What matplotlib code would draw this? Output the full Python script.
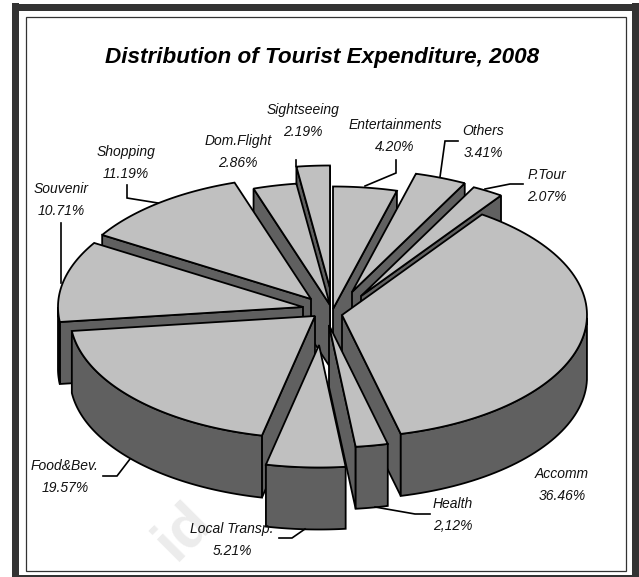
import numpy as np
import matplotlib
matplotlib.use("Agg")
import matplotlib.pyplot as plt
from matplotlib.patches import Polygon, Rectangle

plt.rcParams['font.family'] = ['Liberation Sans', 'DejaVu Sans']

# Datos, en sentido horario desde las 12
categories = ["Entertainments", "Others", "P.Tour", "Accomm", "Health", "Local Transp.",
              "Food&Bev.", "Souvenir", "Shopping", "Dom.Flight", "Sightseeing"]
values = [4.20, 3.41, 2.07, 36.46, 2.12, 5.21, 19.57, 10.71, 11.19, 2.86, 2.19]
pct_labels = ["4.20%", "3.41%", "2.07%", "36.46%", "2,12%", "5.21%",
              "19.57%", "10.71%", "11.19%", "2.86%", "2.19%"]

# Layout en pixeles
W, H = 639, 577
CX, CY = 331, 313
R = 245
SQUASH = 0.5
DEPTH = 62
TOP = "#c0c0c0"
SIDE = "#606060"
LW = 1.3

explode = [(2, -4), (21, -21), (30, -17), (11, 2), (-2, 12), (-12, 32),
           (-16, 3), (-28, -6), (-20, -14), (-1, -8), (-1, -25)]
label_pos = [(395, 125), (483, 131), (547, 175), (562, 474), (453, 504), (232, 529),
             (65, 466), (61, 189), (126, 152), (238, 141), (303, 110)]
leaders = [[(396, 160), (396, 173), (365, 186)],
           [(458, 141), (445, 141), (440, 177)],
           [(523, 184), (510, 184), (485, 189)],
           [(430, 514), (415, 514), (375, 507)],
           [(279, 538), (292, 538), (305, 529)],
           [(103, 476), (117, 476), (130, 459)],
           [(61, 223), (61, 283)],
           [(127, 185), (127, 198), (158, 203)],
           [(296, 160), (296, 166)]]

fig = plt.figure(figsize=(W / 100, H / 100), dpi=100)
ax = fig.add_axes([0, 0, 1, 1])
ax.set_xlim(0, W)
ax.set_ylim(H, 0)
ax.axis("off")

# Marco
ax.text(184, 531, "id", color="#ececec", fontsize=44, fontweight="bold",
        rotation=45, ha="center", va="center", zorder=0)
ax.add_patch(Rectangle((25.5, 16.5), 600, 554, fill=False, ec="#333333", lw=0.9, zorder=1))
for box in [(12, 3, 7, 574), (632, 3, 7, 574), (12, 4, 627, 7), (12, 575, 627, 2)]:
    ax.add_patch(Rectangle(box[:2], box[2], box[3], fc="#333333", ec="none", zorder=1))


def rim(ang, ox, oy):
    rad = np.radians(ang)
    return np.column_stack([ox + R * np.cos(rad), oy - R * SQUASH * np.sin(rad)])


# Angulos de cada sector
edges = 90 - np.concatenate([[0], np.cumsum(values)]) * 360 / sum(values)
mids = (edges[:-1] + edges[1:]) / 2

# De atras hacia adelante
order = np.argsort(-np.sin(np.radians(mids)))
z = 2
for i in order:
    a1, a2 = edges[i], edges[i + 1]
    ox, oy = CX + explode[i][0], CY + explode[i][1]
    arc = np.linspace(a1, a2, 80)
    pts = rim(arc, ox, oy)

    # paredes radiales
    if np.cos(np.radians(a1)) < 0:
        p = rim(np.array([a1]), ox, oy)[0]
        ax.add_patch(Polygon([(ox, oy), p, p + (0, DEPTH), (ox, oy + DEPTH)],
                             fc=SIDE, ec="k", lw=LW, zorder=z))
    if np.cos(np.radians(a2)) > 0:
        p = rim(np.array([a2]), ox, oy)[0]
        ax.add_patch(Polygon([(ox, oy), p, p + (0, DEPTH), (ox, oy + DEPTH)],
                             fc=SIDE, ec="k", lw=LW, zorder=z))

    # pared exterior, solo la mitad de abajo del borde
    front = pts[np.sin(np.radians(arc)) <= 0]
    if len(front) > 1:
        wall = np.vstack([front, front[::-1] + (0, DEPTH)])
        ax.add_patch(Polygon(wall, fc=SIDE, ec="k", lw=LW, zorder=z))

    ax.add_patch(Polygon(np.vstack([[ox, oy], pts]), fc=TOP, ec="k", lw=LW, zorder=z))
    z += 1

for line in leaders:
    xs, ys = zip(*line)
    ax.plot(xs, ys, color="k", lw=1.2, zorder=z, solid_joinstyle="miter")

ax.text(322, 57, "Distribution of Tourist Expenditure, 2008", fontsize=16.2, style="italic",
        fontweight="bold", ha="center", va="center", color="k", zorder=z + 1)
for name, pct, pos in zip(categories, pct_labels, label_pos):
    ax.text(pos[0], pos[1], name, fontsize=10, style="italic", ha="center", va="center",
            color="#111111", zorder=z + 1)
    ax.text(pos[0], pos[1] + 22, pct, fontsize=10, style="italic", ha="center", va="center",
            color="#111111", zorder=z + 1)

fig.savefig("out.png", dpi=100)
